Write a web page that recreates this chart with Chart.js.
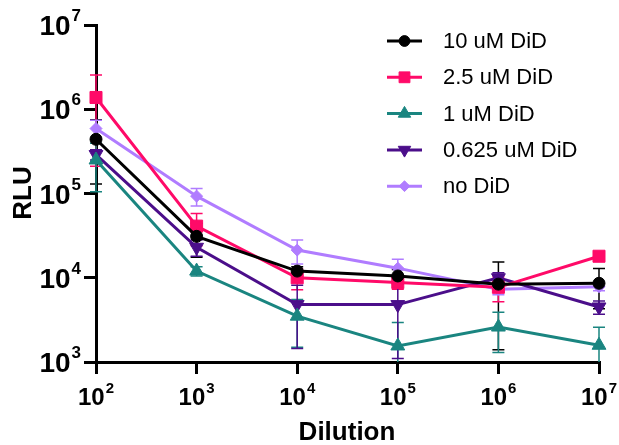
<!DOCTYPE html>
<html>
<head>
<meta charset="utf-8">
<script src="https://cdn.jsdelivr.net/npm/chart.js@4.4.0/dist/chart.umd.min.js"></script>
<style>
  html, body { margin: 0; padding: 0; background: #fff; }
  #wrap { width: 619px; height: 445px; }
</style>
</head>
<body>
<div id="wrap"><canvas id="chart"></canvas></div>
<script>
// dilution steps (x) and axis decades
const dilutions = [1e2, 1e3, 1e4, 1e5, 1e6, 1e7];
const xTicks = [1e2, 1e3, 1e4, 1e5, 1e6, 1e7];
const yTicks = [1e3, 1e4, 1e5, 1e6, 1e7];

// RLU means and SD per series
const labels = ['10 uM DiD', '2.5 uM DiD', '1 uM DiD', '0.625 uM DiD', 'no DiD'];
const rlu10 = [4.4e5, 3.1e4, 1.2e4, 1.05e4, 8.4e3, 8.6e3];
const sd10 = [3.1e5, 1.35e4, 1.5e3, 2.0e3, 7.0e3, 4.3e3];
const rlu25 = [1.38e6, 4.1e4, 1.0e4, 8.8e3, 7.7e3, 1.8e4];
const sd25 = [1.17e6, 1.7e4, 2.8e3, 1.5e3, 2.5e3, 1.5e3];
const rlu1 = [2.5e5, 1.2e4, 3.5e3, 1.55e3, 2.6e3, 1.58e3];
const sd1 = [1.45e5, 1.5e3, 2.0e3, 1.4e3, 1.3e3, 1.0e3];
const rlu0625 = [2.9e5, 2.3e4, 4.8e3, 4.8e3, 1.0e4, 4.5e3];
const sd0625 = [4e4, 5e3, 3.35e3, 3.7e3, 1.5e3, 8e2];
const rluNone = [5.9e5, 9.3e4, 2.13e4, 1.3e4, 7.3e3, 7.8e3];
const sdNone = [1.5e5, 2.2e4, 6.7e3, 3.6e3, 1e3, 8e2];

const colors = ['#000000', '#FF0A68', '#1A8580', '#4B0E8A', '#B07CFF'];
const FONT = "'Liberation Sans', Arial, sans-serif";

function makeSet(i, values, errs, style, radius, rotation) {
    return {
        label: labels[i],
        data: dilutions.map((x, k) => ({ x: x, y: values[k] })),
        errors: errs,
        borderColor: colors[i],
        backgroundColor: colors[i],
        borderWidth: 3,
        pointStyle: style,
        pointRadius: radius,
        pointRotation: rotation,
        pointBorderWidth: 1,
        pointHoverRadius: radius,
        tension: 0,
        clip: false
    };
}

const datasets = [
    makeSet(0, rlu10, sd10, 'circle', 6, 0),
    makeSet(1, rlu25, sd25, 'rect', 8.5, 0),
    makeSet(2, rlu1, sd1, 'triangle', 8, 0),
    makeSet(3, rlu0625, sd0625, 'triangle', 8, 180),
    makeSet(4, rluNone, sdNone, 'rectRot', 6, 0)
];

// error bars, drawn under the lines
const errorBars = {
    id: 'errorBars',
    beforeDatasetsDraw(chart) {
        const ctx = chart.ctx;
        const xs = chart.scales.x, ys = chart.scales.y;
        const area = chart.chartArea;
        ctx.save();
        ctx.lineWidth = 1.5;
        chart.data.datasets.forEach(ds => {
            ctx.strokeStyle = ds.borderColor;
            ds.data.forEach((p, k) => {
                const sd = ds.errors[k];
                const px = xs.getPixelForValue(p.x);
                const top = ys.getPixelForValue(p.y + sd);
                const low = p.y - sd;
                let bot = low > 0 ? ys.getPixelForValue(low) : area.bottom;
                const capBot = bot < area.bottom;
                bot = Math.min(bot, area.bottom);
                ctx.beginPath();
                ctx.moveTo(px, top);
                ctx.lineTo(px, bot);
                ctx.moveTo(px - 6, top);
                ctx.lineTo(px + 6, top);
                if (capBot) {
                    ctx.moveTo(px - 6, bot);
                    ctx.lineTo(px + 6, bot);
                }
                ctx.stroke();
            });
        });
        ctx.restore();
    }
};

// tick labels as 10^n, axis titles and legend
function drawPower(ctx, exp, x, y, align, big, small, rise) {
    ctx.font = 'bold ' + big + 'px ' + FONT;
    const wb = ctx.measureText('10').width;
    ctx.font = 'bold ' + small + 'px ' + FONT;
    const ws = ctx.measureText(String(exp)).width;
    const total = wb + 1 + ws;
    const left = align === 'right' ? x - total : x - total / 2;
    ctx.textAlign = 'left';
    ctx.textBaseline = 'alphabetic';
    ctx.font = 'bold ' + big + 'px ' + FONT;
    ctx.fillText('10', left, y);
    ctx.font = 'bold ' + small + 'px ' + FONT;
    ctx.fillText(String(exp), left + wb + 1, y - rise);
}

const decorations = {
    id: 'decorations',
    afterDraw(chart) {
        const ctx = chart.ctx;
        const xs = chart.scales.x, ys = chart.scales.y;
        ctx.save();
        ctx.fillStyle = '#000';
        xTicks.forEach(v => drawPower(ctx, Math.round(Math.log10(v)), xs.getPixelForValue(v), 405, 'center', 24, 15, 12.5));
        yTicks.forEach(v => drawPower(ctx, Math.round(Math.log10(v)), 81, ys.getPixelForValue(v) + 10, 'right', 28, 17, 14));

        ctx.font = 'bold 26px ' + FONT;
        ctx.textAlign = 'center';
        ctx.textBaseline = 'middle';
        ctx.fillText('Dilution', 347, 433);
        ctx.save();
        ctx.translate(24, 193);
        ctx.rotate(-Math.PI / 2);
        ctx.fillText('RLU', 0, 0);
        ctx.restore();

        // legend
        ctx.font = '22px ' + FONT;
        ctx.textAlign = 'left';
        chart.data.datasets.forEach((ds, i) => {
            const y = 41 + i * 36.3;
            ctx.strokeStyle = ds.borderColor;
            ctx.lineWidth = 3;
            ctx.beginPath();
            ctx.moveTo(387, y);
            ctx.lineTo(422, y);
            ctx.stroke();
            ctx.fillStyle = ds.backgroundColor;
            ctx.lineWidth = 1;
            Chart.helpers.drawPoint(ctx, {
                pointStyle: ds.pointStyle,
                rotation: ds.pointRotation,
                radius: ds.pointRadius * 0.9,
                borderWidth: 1
            }, 404.5, y);
            ctx.fillStyle = '#000';
            ctx.fillText(ds.label, 443, y + 1);
        });
        ctx.restore();
    }
};

const axisCommon = {
    type: 'logarithmic',
    ticks: { display: false },
    grid: { display: true, drawOnChartArea: false, drawTicks: true, tickLength: 12, color: '#000', lineWidth: 3 },
    border: { display: true, color: '#000', width: 3 }
};

new Chart(document.getElementById('chart'), {
    type: 'line',
    data: { datasets: datasets },
    options: {
        responsive: true,
        maintainAspectRatio: false,
        animation: false,
        devicePixelRatio: 1,
        layout: { padding: { top: 25, right: 20, bottom: 0, left: 0 } },
        plugins: {
            legend: { display: false },
            tooltip: { enabled: false }
        },
        scales: {
            x: Object.assign({}, axisCommon, {
                min: 1e2, max: 1e7,
                afterBuildTicks: s => { s.ticks = xTicks.map(v => ({ value: v })); },
                afterFit: s => { s.height = 83; }
            }),
            y: Object.assign({}, axisCommon, {
                min: 1e3, max: 1e7,
                afterBuildTicks: s => { s.ticks = yTicks.map(v => ({ value: v })); },
                afterFit: s => { s.width = 96; }
            })
        }
    },
    plugins: [errorBars, decorations]
});
</script>
</body>
</html>
